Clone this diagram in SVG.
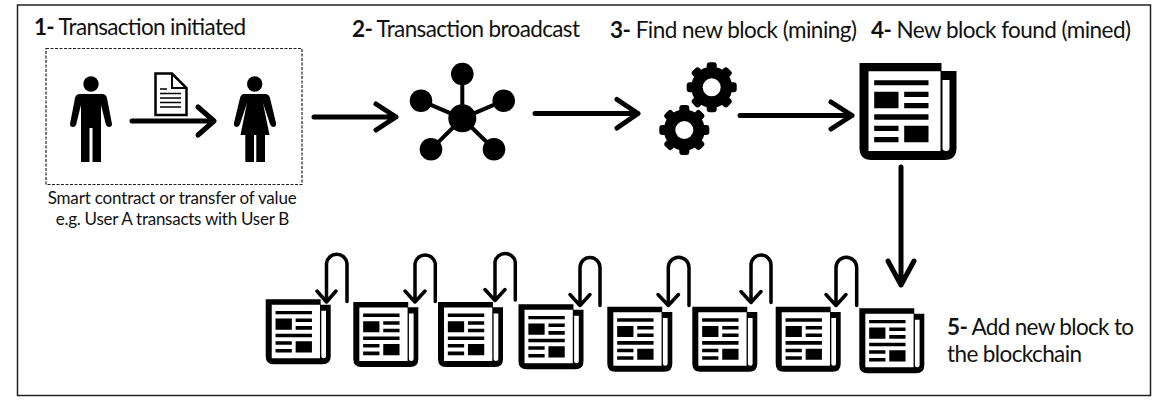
<svg xmlns="http://www.w3.org/2000/svg" xmlns:xlink="http://www.w3.org/1999/xlink" width="1170" height="405" viewBox="0 0 1170 405">
<style>
text{font-family:Lato,"Open Sans","Liberation Sans",sans-serif;fill:#111}
.h{font-size:22.500px}
.h tspan{font-weight:700}
.s{font-size:17px}
.c{fill:none;stroke:#000;stroke-linecap:round;stroke-linejoin:round}
.m{stroke-width:5}
.l{stroke-width:3.500}
</style>
<defs>
<symbol id="paper" viewBox="0 0 97 97" overflow="visible">
<path fill-rule="evenodd" d="M0 0H82V8H97V85Q97 97 85 97H12Q0 97 0 85ZM9 8.300V88H81V8.300ZM14.700 17.300V22.300H69V17.300ZM14.700 28.700V45.300H39V28.700ZM44.700 28.700V34H69V28.700ZM44.700 40V45.300H69V40ZM14.700 51.300V56.700H69V51.300ZM14.700 62.700V68H39V62.700ZM44.700 62.700V79.300H69V62.700ZM14.700 74V79.300H39V74ZM83 17V85Q83 88 86.500 88Q90 88 90 85V17Z"/>
</symbol>
<g id="gear">
<rect x="-5" y="-25" width="10" height="50" rx="3"/>
<rect x="-5" y="-25" width="10" height="50" rx="3" transform="rotate(45)"/>
<rect x="-5" y="-25" width="10" height="50" rx="3" transform="rotate(90)"/>
<rect x="-5" y="-25" width="10" height="50" rx="3" transform="rotate(135)"/>
<circle r="20.500"/>
<circle r="9" fill="#fff"/>
</g>
</defs>
<rect width="1170" height="405" fill="#fff"/>
<rect x="17.500" y="5" width="1133" height="390.500" fill="none" stroke="#222" stroke-width="1.500"/>

<g id="step1">
<text class="h" x="34" y="35" textLength="212"><tspan>1-</tspan> Transaction initiated</text>
<rect x="46" y="48.500" width="256" height="136" fill="none" stroke="#222" stroke-width="1.200" stroke-dasharray="3 1.500"/>
<text class="s" x="47.700" y="204" textLength="249">Smart contract or transfer of value</text>
<text class="s" x="55.700" y="225" textLength="233.600">e.g. User A transacts with User B</text>
</g>
<g id="user-a">
<circle cx="91" cy="84" r="7.700"/>
<path d="M80 94H102Q106 94 107 98L112 124Q112 127 109 127Q107 127 106 125L101 105V162H92.500V128H89.500V162H81V105L76 125Q75 127 73 127Q70 127 70 124L75 98Q76 94 80 94Z"/>
</g>
<g id="user-b">
<circle cx="254.700" cy="84" r="7.700"/>
<path d="M244 94H265Q269 94 270 98L276 123Q276.500 127 273 127Q271 127 270 124L263 103L269.500 135H265V162H256.300V135H254V162H245.300V135H240.500L247 103L240 124Q239 127 237 127Q233.500 127 234 123L240 98Q241 94 244 94Z"/>
</g>
<g id="document">
<path d="M155.500 73.500H172L186.500 88V115H155.500Z" fill="#fff" stroke="#000" stroke-width="2.500"/>
<path d="M172 74V88H186" fill="none" stroke="#000" stroke-width="2"/>
<path d="M160 89H167M160 93.500H181M160 98H181M160 102.500H181M160 107H181" stroke="#000" stroke-width="1.500"/>
</g>
<g id="step2">
<text class="h" x="352" y="37" textLength="228"><tspan>2-</tspan> Transaction broadcast</text>
<path d="M462.300 118.300V74M462.300 118.300L421 100.700M462.300 118.300L503.700 100.700M462.300 118.300L431 149.300M462.300 118.300L494 149.300" stroke="#000" stroke-width="4"/>
<circle cx="462.300" cy="118.300" r="14"/>
<circle cx="462.300" cy="74" r="11.300"/>
<circle cx="421" cy="100.700" r="11.300"/>
<circle cx="503.700" cy="100.700" r="11.300"/>
<circle cx="431" cy="149.300" r="11.300"/>
<circle cx="494" cy="149.300" r="11.300"/>
</g>
<g id="step3">
<text class="h" x="610" y="38" textLength="247"><tspan>3-</tspan> Find new block (mining)</text>
<use xlink:href="#gear" href="#gear" x="711.700" y="87.300"/>
<use xlink:href="#gear" href="#gear" x="684.300" y="130"/>
</g>
<g id="step4">
<text class="h" x="871" y="38" textLength="260"><tspan>4-</tspan> New block found (mined)</text>
<use href="#paper" x="859.500" y="63" width="97" height="97"/>
</g>
<g id="step5">
<text class="h" x="947" y="335" textLength="187"><tspan>5-</tspan> Add new block to</text>
<text class="h" x="947" y="362" textLength="135">the blockchain</text>
</g>
<g id="block-1"><use href="#paper" x="265.700" y="299.300" width="65" height="65"/></g>
<g id="block-2"><use href="#paper" x="353.300" y="302" width="65" height="65"/></g>
<g id="block-3"><use href="#paper" x="438" y="302" width="65" height="65"/></g>
<g id="block-4"><use href="#paper" x="518.500" y="304.300" width="65" height="65"/></g>
<g id="block-5"><use href="#paper" x="607.300" y="306.700" width="65" height="65"/></g>
<g id="block-6"><use href="#paper" x="692.300" y="306.700" width="65" height="65"/></g>
<g id="block-7"><use href="#paper" x="775.700" y="306.700" width="65" height="65"/></g>
<g id="block-8"><use href="#paper" x="859.300" y="308.300" width="65" height="65"/></g>

<g id="connectors">
<path class="c m" d="M132 121H214M198 107L214 121L198 135"/>
<path class="c m" d="M314 117H396M376 104L396 117L376 130"/>
<path class="c m" d="M535 113.500H638M617 99.500L638 113.500L617 128"/>
<path class="c m" d="M740 115.500H852M831 102L852 115.500L831 129"/>
<path class="c m" d="M901 167V285M888 261L901 285L914 261"/>
<path class="c l" d="M347 301.500V263.500A10.300 10.300 0 0 0 326.500 263.500V302M317 291L326.500 302L336 291"/>
<path class="c l" d="M435.300 301.500V263.500A10.300 10.300 0 0 0 415 263.500V302M405 291L415 302L425 291"/>
<path class="c l" d="M515.300 300V262A10.300 10.300 0 0 0 495 262V300.500M485 289.500L495 300.500L505 289.500"/>
<path class="c l" d="M600 305.500V267.500A10 10 0 0 0 580 267.500V305.500M570 294.500L580 305.500L590 294.500"/>
<path class="c l" d="M689 305.500V267.500A10.300 10.300 0 0 0 668.300 267.500V305.500M658 294.500L668.300 305.500L678.500 294.500"/>
<path class="c l" d="M771 302.500V265A10 10 0 0 0 751 265V302.500M741 291.500L751 302.500L761 291.500"/>
<path class="c l" d="M856.700 305.500V267.500A10.300 10.300 0 0 0 836 267.500V305.500M826 294.500L836 305.500L846 294.500"/>
</g>
</svg>
